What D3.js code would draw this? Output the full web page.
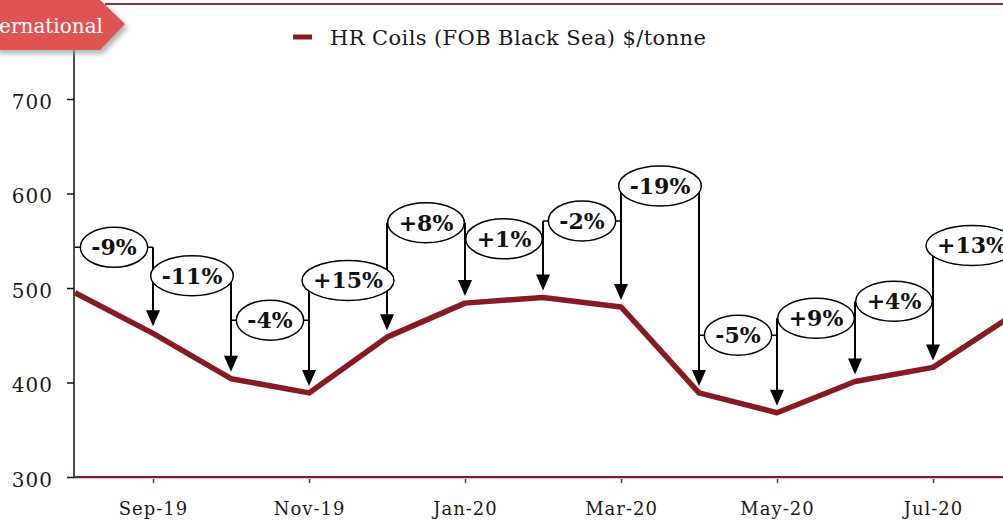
<!DOCTYPE html>
<html>
<head>
<meta charset="utf-8">
<script src="https://d3js.org/d3.v7.min.js"></script>
<style>
  body { margin: 0; background: white; overflow: hidden; }
  .axis_text { font-family: "DejaVu Serif", serif; fill: #1a1a1a; }
  .pct { font-family: "DejaVu Serif", serif; font-weight: bold; font-size: 22px; fill: #111; }
</style>
</head>
<body>
<script>

// monthly prices, HR coils FOB Black Sea ($/tonne)
var months = ["Aug-19", "Sep-19", "Oct-19", "Nov-19", "Dec-19", "Jan-20", "Feb-20",
              "Mar-20", "Apr-20", "May-20", "Jun-20", "Jul-20", "Aug-20"];
var prices = [495, 452, 404, 389, 448, 484, 490, 480, 389, 368, 401, 416, 470];

// month-on-month change labels, one per month from Sep-19
var changes = ["-9%", "-11%", "-4%", "+15%", "+8%", "+1%", "-2%", "-19%", "-5%", "+9%", "+4%", "+13%"];
// height of each label bubble, in $/tonne
var labelLevels = [543, 513, 466, 508, 569, 552, 571, 608, 450, 468, 486, 545];

var xLabels = ["Sep-19", "Nov-19", "Jan-20", "Mar-20", "May-20", "Jul-20"];
var yTicks = [300, 400, 500, 600, 700];

var seriesName = "HR Coils (FOB Black Sea) $/tonne";
// only the end of the section tag is visible in the crop
var tagText = "ernational";

window.onload = function() {
  var w = 1003;
  var h = 523;
  var red = "#861b22";

  var svg = d3.select("body")
              .append("svg")
              .attr("width", w)
              .attr("height", h);

  var xScale = d3.scalePoint()
                 .domain(months)
                 .range([75, 1011]);

  var yScale = d3.scaleLinear()
                 .domain([300, 800])
                 .range([477, 4.5]);

  // top border of the panel
  svg.append("line")
     .attr("x1", 105).attr("x2", w)
     .attr("y1", 4).attr("y2", 4)
     .style("stroke", "#9a2a2e")
     .style("stroke-width", 2);

  // y-axis
  var yAxis = svg.append("g")
     .attr("transform", "translate(74, 0)")
     .call(d3.axisLeft(yScale).tickValues(yTicks).tickSize(7).tickPadding(14));
  yAxis.select(".domain").attr("d", "M0,0V477").style("stroke", "#111").style("stroke-width", 1.5);
  yAxis.selectAll(".tick line").style("stroke", "#111").style("stroke-width", 1.5);
  yAxis.selectAll(".tick text")
       .attr("class", "axis_text")
       .style("font-size", "20px")
       .style("letter-spacing", "1px")
       .attr("dy", "0.45em");

  // x-axis
  var xAxis = svg.append("g")
     .attr("transform", "translate(0, 477)")
     .call(d3.axisBottom(xScale).tickValues(xLabels).tickSize(6).tickSizeOuter(0).tickPadding(19));
  xAxis.select(".domain").attr("d", "M74,0H" + w).style("stroke", red).style("stroke-width", 2);
  xAxis.selectAll(".tick line").style("stroke", red).style("stroke-width", 1.5);
  xAxis.selectAll(".tick text")
       .attr("class", "axis_text")
       .style("font-size", "18px")
       .style("letter-spacing", "1px");
  svg.append("line")
     .attr("x1", 74).attr("x2", w)
     .attr("y1", 478.5).attr("y2", 478.5)
     .style("stroke", "#c8c8c8")
     .style("stroke-width", 1);

  // price line
  var line = d3.line()
               .x(function(d, i) { return xScale(months[i]); })
               .y(function(d) { return yScale(d); });

  svg.append("path")
     .datum(prices)
     .attr("d", line)
     .style("fill", "none")
     .style("stroke", red)
     .style("stroke-width", 5.5)
     .style("stroke-linejoin", "round");

  add_annotations(svg, xScale, yScale);
  add_legend(svg, red);
  add_tag(svg);
};

function add_annotations(svg, xScale, yScale) {
  var g = svg.append("g");

  // connectors and arrows first, bubbles on top
  changes.forEach(function(label, i) {
    var x0 = xScale(months[i]);
    var x1 = xScale(months[i + 1]);
    var ly = yScale(labelLevels[i]);
    var tip = yScale(prices[i + 1]) - 7;
    var prevTip = yScale(prices[i]) - 7;

    g.append("line")
     .attr("x1", x0).attr("x2", x1)
     .attr("y1", ly).attr("y2", ly)
     .style("stroke", "#000").style("stroke-width", 1.5);

    if (i > 0) {
      g.append("line")
       .attr("x1", x0).attr("x2", x0)
       .attr("y1", ly).attr("y2", prevTip - 10)
       .style("stroke", "#000").style("stroke-width", 2);
    }

    g.append("line")
     .attr("x1", x1).attr("x2", x1)
     .attr("y1", ly).attr("y2", tip - 10)
     .style("stroke", "#000").style("stroke-width", 2);

    g.append("path")
     .attr("d", "M" + (x1 - 7) + "," + (tip - 16) + "L" + (x1 + 7) + "," + (tip - 16) + "L" + x1 + "," + tip + "Z")
     .style("fill", "#000");
  });

  changes.forEach(function(label, i) {
    var cx = (xScale(months[i]) + xScale(months[i + 1])) / 2;
    var ly = yScale(labelLevels[i]);

    var bubble = g.append("ellipse")
                  .attr("cx", cx)
                  .attr("cy", ly)
                  .attr("ry", 20)
                  .style("fill", "white")
                  .style("stroke", "#000")
                  .style("stroke-width", 1.5);

    var txt = g.append("text")
               .attr("class", "pct")
               .attr("x", cx)
               .attr("y", ly + 8)
               .style("text-anchor", "middle")
               .text(label);

    bubble.attr("rx", txt.node().getComputedTextLength() / 2 + 11);
  });
}

function add_legend(svg, red) {
  svg.append("line")
     .attr("x1", 293).attr("x2", 312)
     .attr("y1", 37).attr("y2", 37)
     .style("stroke", red)
     .style("stroke-width", 5);

  svg.append("text")
     .attr("class", "axis_text")
     .attr("x", 330)
     .attr("y", 45)
     .style("font-size", "21px")
     .style("letter-spacing", "0.4px")
     .text(seriesName);
}

function add_tag(svg) {
  var defs = svg.append("defs");
  var f = defs.append("filter").attr("id", "shadow")
              .attr("x", "-20%").attr("y", "-20%")
              .attr("width", "150%").attr("height", "160%");
  f.append("feGaussianBlur").attr("stdDeviation", 2.5);

  var shape = "M-5,0L100,0L125,24L100,50L-5,50Z";

  svg.append("path")
     .attr("d", shape)
     .attr("transform", "translate(3, 4)")
     .style("fill", "#999")
     .style("opacity", 0.7)
     .attr("filter", "url(#shadow)");

  svg.append("path")
     .attr("d", shape)
     .style("fill", "#e05353");

  svg.append("text")
     .attr("x", 103)
     .attr("y", 33)
     .style("text-anchor", "end")
     .style("font-family", "DejaVu Serif, serif")
     .style("font-size", "20px")
     .style("fill", "white")
     .text(tagText);
}
</script>
</body>
</html>
